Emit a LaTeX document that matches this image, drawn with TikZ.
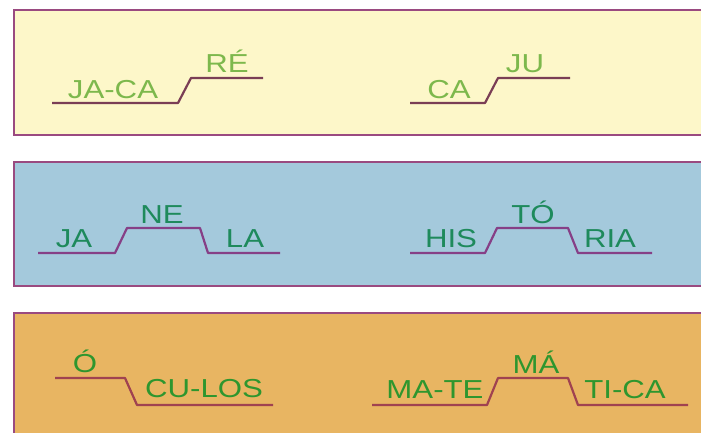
\documentclass[tikz,border=0pt]{standalone}
\usepackage{fontspec}
\setmainfont{Liberation Sans}[FakeStretch=1.2]
\begin{document}
\begin{tikzpicture}[x=1pt,y=-1pt,
  panel/.style={draw=frame,line width=2.2pt},
  syl/.style={anchor=base,inner sep=0pt,font=\fontsize{26}{30}\selectfont},
  wave/.style={line width=2.2pt,line join=round}]
\definecolor{frame}{HTML}{9A4A80}
\definecolor{yel}{HTML}{FDF7C9}
\definecolor{blu}{HTML}{A4C9DC}
\definecolor{ora}{HTML}{E8B562}
\definecolor{txtA}{HTML}{7DB84C}
\definecolor{txtB}{HTML}{1E8A5C}
\definecolor{txtC}{HTML}{2E962E}
\definecolor{lnA}{HTML}{7A3E55}
\definecolor{lnB}{HTML}{863F86}
\definecolor{lnC}{HTML}{A04250}
\useasboundingbox (0,0) rectangle (701,432);
\fill[white] (0,0) rectangle (701,432);
% panels
\path[panel,fill=yel] (14,10) rectangle (730,135);
\path[panel,fill=blu] (14,162) rectangle (730,286);
\path[panel,fill=ora] (14,313) rectangle (730,460);
% panel 1
\draw[wave,lnA] (52,103) -- (178,103) -- (191,78) -- (263,78);
\node[syl,txtA] (jaca) at (113,98) {JA-CA};
\node[syl,txtA] (re) at (227,72) {RÉ};
\draw[wave,lnA] (410,103) -- (485,103) -- (498,78) -- (570,78);
\node[syl,txtA] (ca) at (449,98) {CA};
\node[syl,txtA] (ju) at (525,72) {JU};
% panel 2
\draw[wave,lnB] (38,253) -- (115,253) -- (127,228) -- (200,228) -- (208,253) -- (280,253);
\node[syl,txtB] (ja) at (74,247) {JA};
\node[syl,txtB] (ne) at (162,223) {NE};
\node[syl,txtB] (la) at (245,247) {LA};
\draw[wave,lnB] (410,253) -- (485,253) -- (497,228) -- (568,228) -- (578,253) -- (652,253);
\node[syl,txtB] (his) at (451,247) {HIS};
\node[syl,txtB] (to) at (533,223) {TÓ};
\node[syl,txtB] (ria) at (610,247) {RIA};
% panel 3
\draw[wave,lnC] (55,378) -- (125,378) -- (137,405) -- (273,405);
\node[syl,txtC] (o) at (85,372) {Ó};
\node[syl,txtC] (culos) at (204,397) {CU-LOS};
\draw[wave,lnC] (372,405) -- (487,405) -- (498,378) -- (568,378) -- (578,405) -- (688,405);
\node[syl,txtC] (mate) at (435,398) {MA-TE};
\node[syl,txtC] (ma) at (536,373) {MÁ};
\node[syl,txtC] (tica) at (625,398) {TI-CA};
\end{tikzpicture}
\end{document}
